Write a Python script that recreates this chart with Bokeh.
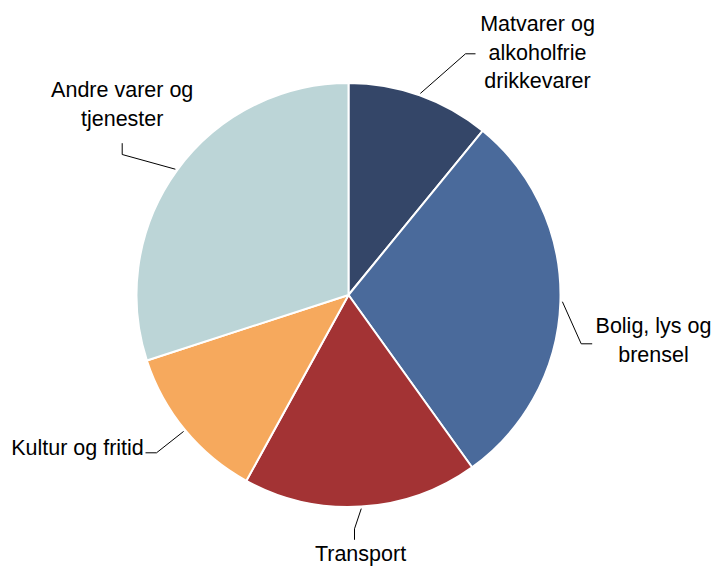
import math
from bokeh.plotting import figure
from bokeh.models import ColumnDataSource, Range1d
from bokeh.core.properties import value
from bokeh.embed import file_html
from bokeh.resources import INLINE

# ---- data ----
categories = [
    "Matvarer og\nalkoholfrie\ndrikkevarer",
    "Bolig, lys og\nbrensel",
    "Transport",
    "Kultur og fritid",
    "Andre varer og\ntjenester",
]
shares = [10.9, 29.2, 17.9, 12.0, 30.0]
colors = ["#344668", "#4a6a9b", "#a33334", "#f6a95d", "#bcd5d7"]

# ---- layout (reference pixel space: x right, y down) ----
W, H = 711, 567
S = 1.0
X0, Y0 = 0, 0
CX, CY, R = 348, 294.5, 212
LINE = 28.5
TEXT_DY = -8.5   # renderer baseline correction
label_pos = [(537, 32), (653, 334), (360, 562), (77, 455.7), (121.7, 98.3)]
leader_knee = [
    ((465, 53.3), (475, 53.3)),
    ((580.7, 343.3), (591.7, 343.3)),
    ((354, 528.3), (354, 539.3)),
    ((156, 452.3), (145, 452.3)),
    ((121.7, 154), (121.7, 142.7)),
]

total = sum(shares)
cum = [0.0]
for v in shares:
    cum.append(cum[-1] + v / total)

starts = [math.pi / 2 - 2 * math.pi * cum[i] for i in range(len(shares))]
ends = [math.pi / 2 - 2 * math.pi * cum[i + 1] for i in range(len(shares))]

wedge_src = ColumnDataSource(dict(
    x=[CX] * len(shares), y=[-CY] * len(shares),
    start=starts, end=ends, color=colors, name=categories,
))

p = figure(width=W, height=H, output_backend="svg", toolbar_location=None,
           x_range=Range1d(X0, X0 + W / S), y_range=Range1d(-(Y0 + H / S), -Y0),
           min_border=0, outline_line_color=None)
p.axis.visible = False
p.grid.visible = False
p.background_fill_color = "white"
p.border_fill_color = "white"

p.wedge(x="x", y="y", radius=R, start_angle="start", end_angle="end",
        direction="clock", fill_color="color", line_color="white", line_width=2,
        source=wedge_src)

# leader lines
xs, ys = [], []
for i in range(len(shares)):
    mid = 2 * math.pi * (cum[i] + cum[i + 1]) / 2  # clockwise from top
    sx = CX + (R + 2) * math.sin(mid)
    sy = CY - (R + 2) * math.cos(mid)
    (kx, ky), (ex, ey) = leader_knee[i]
    xs.append([sx, kx, ex])
    ys.append([-sy, -ky, -ey])
p.multi_line(xs=xs, ys=ys, line_color="#000000", line_width=1)

# labels, one row per text line
tx, ty, tt = [], [], []
for i, lab in enumerate(categories):
    lx, ly = label_pos[i]
    for j, line in enumerate(lab.split("\n")):
        tx.append(lx)
        ty.append(-(ly + j * LINE + TEXT_DY))
        tt.append(line)
p.text(x=tx, y=ty, text=tt, text_font=value("Liberation Sans"),
       text_font_size="21.5px", text_align="center", text_baseline="alphabetic",
       text_color="#000000")

open("out.html", "w").write(file_html(p, INLINE))
